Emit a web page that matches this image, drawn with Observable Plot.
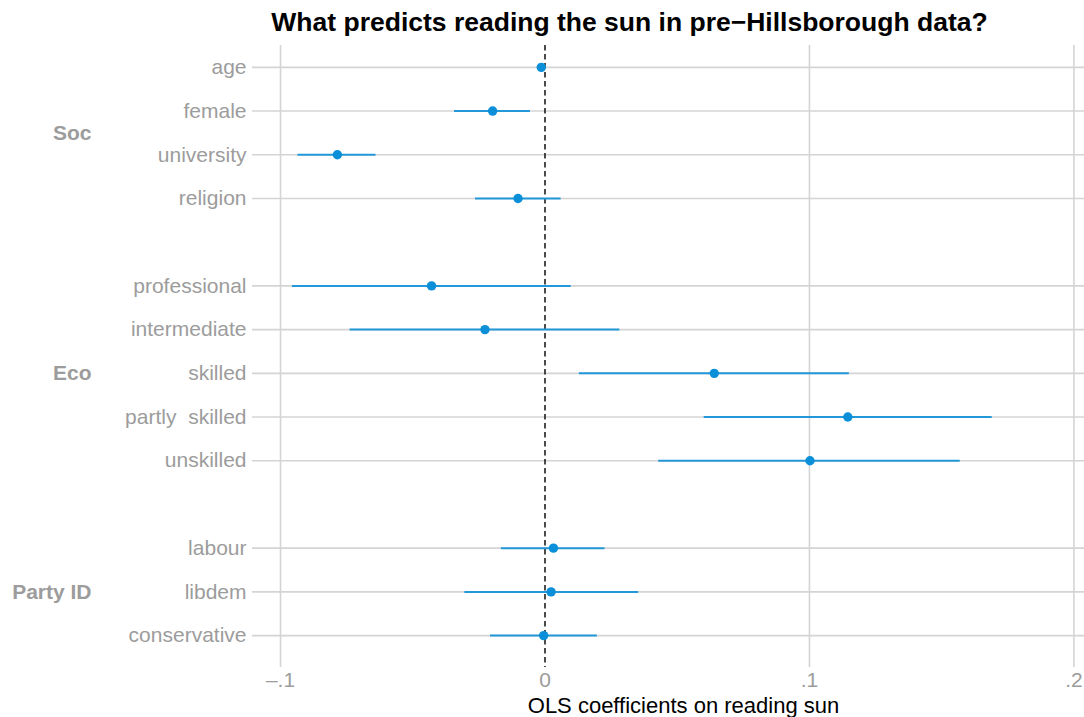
<!DOCTYPE html>
<html>
<head>
<meta charset="utf-8">
<script src="https://cdn.jsdelivr.net/npm/d3@7"></script>
<script src="https://cdn.jsdelivr.net/npm/@observablehq/plot@0.6"></script>
<style>
  html, body { margin: 0; padding: 0; background: #fff; }
  #chart svg { font-family: "Liberation Sans", Arial, Helvetica, sans-serif; }
  #chart svg text { white-space: pre; }
</style>
</head>
<body>
<div id="chart"></div>
<script>
// Coefficient plot: OLS estimates with 95% confidence intervals
const groups = ["Soc", "Eco", "Party ID"];
const variables = ["age", "female", "university", "religion",
  "professional", "intermediate", "skilled", "partly  skilled", "unskilled",
  "labour", "libdem", "conservative"];
const variableGroup = ["Soc", "Soc", "Soc", "Soc",
  "Eco", "Eco", "Eco", "Eco", "Eco",
  "Party ID", "Party ID", "Party ID"];
const coef  = [-0.0014, -0.0198, -0.0785, -0.0102, -0.0429, -0.0227, 0.0640, 0.1145, 0.1002, 0.0032, 0.0023, -0.0005];
const lower = [-0.0024, -0.0342, -0.0934, -0.0263, -0.0955, -0.0737, 0.0130, 0.0602, 0.0430, -0.0165, -0.0303, -0.0206];
const upper = [-0.0004, -0.0055, -0.0639, 0.0061, 0.0099, 0.0283, 0.1151, 0.1691, 0.1570, 0.0227, 0.0354, 0.0198];
const xTicks = [-0.1, 0, 0.1, 0.2];
const xTickLabels = ["\u2013.1", "0", ".1", ".2"];
const title = "What predicts reading the sun in pre\u2212Hillsborough data?";
const xTitle = "OLS coefficients on reading sun";

// Row slots: variables stacked top to bottom with one empty slot between groups
const rows = variables.map((name, i) => ({
  name,
  group: variableGroup[i],
  slot: i + groups.indexOf(variableGroup[i]),
  coef: coef[i],
  lower: lower[i],
  upper: upper[i]
}));
const slotLabel = new Map(rows.map(r => [r.slot, r.name]));
const groupRows = groups.map(g => ({
  group: g,
  slot: d3.mean(rows.filter(r => r.group === g), r => r.slot)
}));

const gray = "#9c9c9c";
const grid = "#d4d4d4";
const blue = "#0b8fd9";

const chart = Plot.plot({
  width: 1084,
  height: 717,
  marginTop: 45,
  marginBottom: 50,
  marginLeft: 252,
  marginRight: 0,
  x: { domain: [-0.1106, 0.2040], axis: null },
  y: { domain: [-0.5, 13.73], reverse: true, axis: null },
  marks: [
    // grid
    Plot.ruleY(rows, { y: "slot", stroke: grid, strokeWidth: 1.6 }),
    Plot.ruleX(xTicks.filter(t => t !== 0), { stroke: grid, strokeWidth: 1.6 }),
    // reference line at zero
    Plot.ruleX([0], { stroke: "#111", strokeWidth: 1.5, strokeDasharray: "5.5,3.5" }),
    // confidence intervals and estimates
    Plot.ruleY(rows, { y: "slot", x1: "lower", x2: "upper", stroke: "#2298d8", strokeWidth: 2 }),
    Plot.dot(rows, { x: "coef", y: "slot", r: 4.7, fill: blue, stroke: "none" }),
    // axes
    Plot.axisY(rows.map(r => r.slot), {
      label: null, tickSize: 0, tickPadding: 6, fontSize: 21, color: gray,
      tickFormat: s => slotLabel.get(s)
    }),
    Plot.axisX(xTicks, {
      label: null, tickSize: 0, tickPadding: 5, fontSize: 21, color: gray,
      tickFormat: d => xTickLabels[xTicks.indexOf(d)]
    }),
    // group labels
    Plot.text(groupRows, {
      y: "slot", text: "group", frameAnchor: "left", dx: -161,
      textAnchor: "end", fontSize: 21, fontWeight: "bold", fill: gray
    }),
    // axis title
    Plot.text([xTitle], {
      text: d => d, frameAnchor: "bottom", lineAnchor: "middle", dx: 15, dy: 38,
      fontSize: 22, fill: "#000"
    }),
    // chart title
    Plot.text([title], {
      text: d => d, frameAnchor: "top", lineAnchor: "middle", dx: -39, dy: -23,
      fontSize: 26.5, fontWeight: "bold", fill: "#000"
    })
  ]
});

document.getElementById("chart").append(chart);
</script>
</body>
</html>
